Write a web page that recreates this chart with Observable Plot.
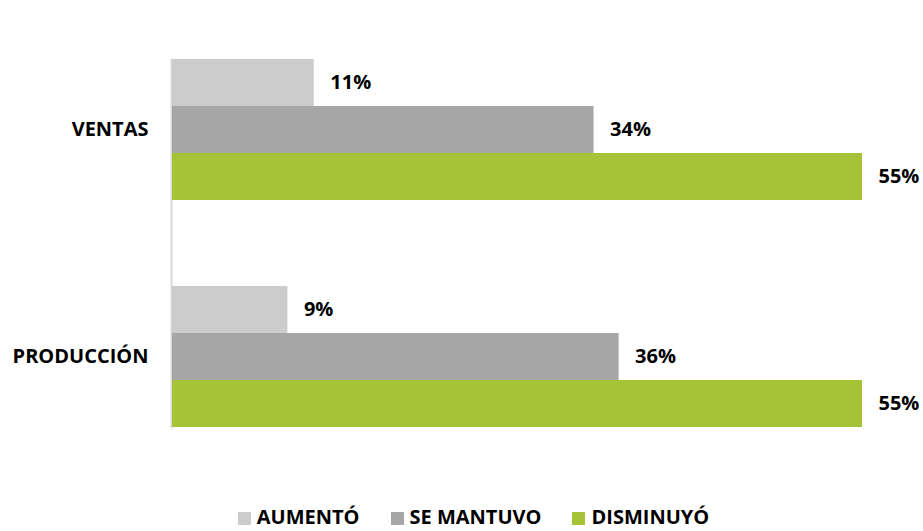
<!DOCTYPE html>
<html>
<head>
<meta charset="utf-8">
<script src="https://cdn.jsdelivr.net/npm/d3@7"></script>
<script src="https://cdn.jsdelivr.net/npm/@observablehq/plot@0.6"></script>
<style>
  html, body { margin: 0; padding: 0; background: #fff; }
  body { width: 923px; height: 531px; overflow: hidden; font-family: "Open Sans", sans-serif; }
  #legend { display: flex; justify-content: center; align-items: flex-end; gap: 31px; padding-left: 24px; height: 37px; font-weight: 700; font-size: 20px; color: #000; line-height: 1; }
  .item { display: flex; align-items: flex-end; gap: 6px; }
  .sw { width: 13px; height: 13px; margin-bottom: 2px; }
</style>
</head>
<body>
<div id="chart"></div>
<div id="legend"></div>
<script>
const categories = ["VENTAS", "PRODUCCIÓN"];
const series = ["AUMENTÓ", "SE MANTUVO", "DISMINUYÓ"];
const ventas = [11.3, 33.6, 55.0];
const produccion = [9.2, 35.6, 55.0];
const colors = ["#cccccc", "#a6a6a6", "#a6c236"];

const data = [];
[ventas, produccion].forEach((vals, i) => {
  vals.forEach((v, j) => data.push({category: categories[i], series: series[j], value: v}));
});
const fmt = d => Math.round(d.value) + "%";

const chart = Plot.plot({
  width: 923,
  height: 490,
  marginLeft: 172,
  marginRight: 61,
  marginTop: 15,
  marginBottom: 18,
  style: {fontFamily: "Open Sans", fontWeight: "700", fontSize: "20px", color: "#000", background: "#fff"},
  x: {domain: [0, 55], axis: null},
  y: {domain: series, padding: 0, axis: null},
  fy: {domain: categories, paddingInner: 0.377, paddingOuter: 0.191, label: null, tickSize: 0, tickPadding: 24},
  color: {domain: series, range: colors},
  marks: [
    Plot.frame({anchor: "left", stroke: "#d9d9d9", strokeWidth: 2, dx: -1, facet: "super"}),
    Plot.barX(data, {x: "value", y: "series", fy: "category", fill: "series"}),
    Plot.text(data, {x: "value", y: "series", fy: "category", text: fmt, textAnchor: "start", dx: 16, fill: "#000"})
  ]
});
document.getElementById("chart").appendChild(chart);

const legend = document.getElementById("legend");
series.forEach((s, i) => {
  const it = document.createElement("div");
  it.className = "item";
  const sw = document.createElement("div");
  sw.className = "sw";
  sw.style.background = colors[i];
  const t = document.createElement("span");
  t.textContent = s;
  it.appendChild(sw); it.appendChild(t);
  legend.appendChild(it);
});
</script>
</body>
</html>
